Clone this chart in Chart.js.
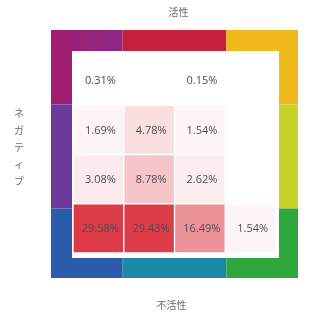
<!DOCTYPE html>
<html>
<head>
<meta charset="utf-8">
<script src="https://cdn.jsdelivr.net/npm/chart.js@4"></script>
<style>
  body { margin: 0; background: #fff; }
  #wrap { width: 316px; height: 315px; }
</style>
</head>
<body>
<div id="wrap"><canvas id="heat" width="316" height="315"></canvas></div>
<script>
// grid data, rows listed top to bottom
const colLabels = ['1', '2', '3', '4'];
const rowLabels = ['1', '2', '3', '4'];
const row1 = [0.31, null, 0.15, null];
const row2 = [1.69, 4.78, 1.54, null];
const row3 = [3.08, 8.78, 2.62, null];
const row4 = [29.58, 29.43, 16.49, 1.54];
const rows = [row1, row2, row3, row4];

const topLabel = '活性';
const bottomLabel = '不活性';
const sideLabel = 'ネガティブ';

const maxVal = Math.max(...rows.flat().filter(v => v != null));

function cellColor(v) {
  if (v == null) return '#ffffff';
  const t = v / maxVal;
  const r = Math.round(255 - t * (255 - 221));
  const g = Math.round(255 - t * (255 - 59));
  const b = Math.round(255 - t * (255 - 72));
  return `rgb(${r},${g},${b})`;
}

// stacked bars build from the bottom, so reverse the row order
const datasets = rows.slice().reverse().map((vals, i) => ({
  label: rowLabels[rows.length - 1 - i],
  data: vals.map(() => 1),
  values: vals,
  backgroundColor: vals.map(cellColor),
  borderColor: 'rgba(255,255,255,0.6)',
  borderWidth: 1,
  borderSkipped: false,
  barPercentage: 1,
  categoryPercentage: 1
}));

// coloured frame around the grid
const framePlugin = {
  id: 'frame',
  beforeDatasetsDraw(chart) {
    const { ctx, chartArea: a } = chart;
    const L = a.left - 22, T = a.top - 26, R = a.right + 22, B = a.bottom + 25;
    const w = 21;
    const hx1 = L + (R - L) * 0.29, hx2 = L + (R - L) * 0.71;
    const vy1 = T + (B - T) * 0.3, vy2 = T + (B - T) * 0.72;
    ctx.save();
    const fill = (c, x, y, ww, hh) => { ctx.fillStyle = c; ctx.fillRect(x, y, ww, hh); };
    // left band
    fill('#a01d72', L, T, w, vy1 - T);
    fill('#6b3a9c', L, vy1, w, vy2 - vy1);
    fill('#2b5cab', L, vy2, w, B - vy2);
    // right band
    fill('#efb91c', R - w + 2, T, w - 2, vy1 - T);
    fill('#c6d226', R - w + 2, vy1, w - 2, vy2 - vy1);
    fill('#2da73c', R - w + 2, vy2, w - 2, B - vy2);
    // top band
    const g = ctx.createLinearGradient(L, 0, hx1, 0);
    g.addColorStop(0, '#a41c6e');
    g.addColorStop(1, '#8c2888');
    fill(g, L, T, hx1 - L, w);
    fill('#c6203c', hx1, T, hx2 - hx1, w);
    fill('#efb91c', hx2, T, R - hx2, w);
    // bottom band
    fill('#2b5cab', L, B - w + 1, hx1 - L, w - 1);
    fill('#1b88a8', hx1, B - w + 1, hx2 - hx1, w - 1);
    fill('#2da73c', hx2, B - w + 1, R - hx2, w - 1);
    ctx.restore();
  },
  afterDatasetsDraw(chart) {
    const { ctx, chartArea: a } = chart;
    ctx.save();
    ctx.textAlign = 'center';
    ctx.textBaseline = 'middle';
    ctx.font = '11px "Open Sans", "Noto Sans", sans-serif';
    ctx.fillStyle = '#4e4e4e';
    chart.data.datasets.forEach((ds, di) => {
      chart.getDatasetMeta(di).data.forEach((bar, i) => {
        const v = ds.values[i];
        if (v == null) return;
        ctx.fillText(v.toFixed(2) + '%', bar.x + 2, bar.y + bar.height / 2 + 0.5);
      });
    });
    ctx.font = '10px "Noto Sans CJK JP", sans-serif';
    ctx.fillStyle = '#6a6a6a';
    const cx = (a.left + a.right) / 2;
    ctx.fillText(topLabel, cx + 4, 12);
    ctx.fillText(bottomLabel, cx - 3, 305);
    [...sideLabel].forEach((ch, i) => {
      ctx.fillText(ch, 19, 113 + i * 17);
    });
    ctx.restore();
  }
};

new Chart(document.getElementById('heat'), {
  type: 'bar',
  data: { labels: colLabels, datasets },
  options: {
    responsive: false,
    animation: false,
    layout: { padding: { left: 73, right: 40, top: 56, bottom: 62 } },
    plugins: { legend: { display: false }, tooltip: { enabled: false } },
    scales: {
      x: { stacked: true, display: false },
      y: { stacked: true, display: false, min: 0, max: rows.length }
    }
  },
  plugins: [framePlugin]
});
</script>
</body>
</html>
